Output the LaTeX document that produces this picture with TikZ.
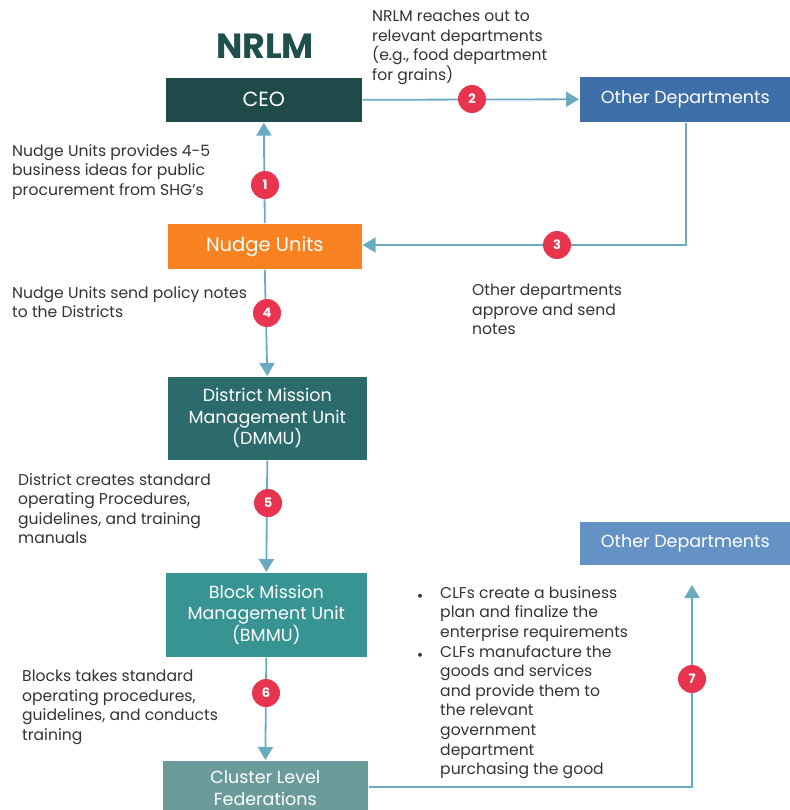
\documentclass[tikz,border=0pt]{standalone}
\usepackage{fontspec}
\setmainfont{Poppins}
\usetikzlibrary{arrows.meta}
\definecolor{ceoC}{HTML}{1F4A4A}
\definecolor{titleC}{HTML}{1F4F4D}
\definecolor{odTopC}{HTML}{3E6FA9}
\definecolor{odBotC}{HTML}{6592C5}
\definecolor{nudgeC}{HTML}{F7821F}
\definecolor{dmmuC}{HTML}{2B6B6B}
\definecolor{bmmuC}{HTML}{389393}
\definecolor{clfC}{HTML}{6B9B9B}
\definecolor{lineC}{HTML}{6AABC2}
\definecolor{badgeC}{HTML}{E8344E}
\definecolor{txtC}{HTML}{333333}
\tikzset{
  box/.style={draw=white, line width=0.6pt, text=white, align=center, inner sep=0pt, anchor=north west},
  note/.style={text=txtC, align=left, inner sep=0pt, anchor=north west, font=\fontsize{15.6}{19.6}\selectfont},
  bul/.style={text=txtC, inner sep=0pt, anchor=base, font=\fontsize{15.6}{19.6}\selectfont},
  conn/.style={draw=lineC, line width=1.8pt},
  arr/.style={conn, -{Triangle[width=15pt,length=13pt]}},
  badge/.style={circle, fill=badgeC, text=white, minimum size=28pt, inner sep=0pt, font=\fontsize{13}{13}\selectfont\bfseries},
}
\begin{document}
\begin{tikzpicture}[x=1pt,y=-1pt]
\useasboundingbox (0,0) rectangle (789,810);
% title
\node[text=titleC, font=\fontsize{35}{35}\selectfont\bfseries] (title) at (265,46) {NRLM};
% boxes
\node[box, fill=ceoC, minimum width=197pt, minimum height=45pt, font=\fontsize{20.5}{22}\selectfont] (ceo) at (165,77) {CEO};
\node[box, fill=odTopC, minimum width=212pt, minimum height=46pt, font=\fontsize{17.5}{20}\selectfont] (odtop) at (579,76) {Other Departments};
\node[box, fill=nudgeC, minimum width=195pt, minimum height=46pt, font=\fontsize{19.5}{20}\selectfont] (nudge) at (167,223) {Nudge Units};
\node[box, fill=dmmuC, minimum width=200pt, minimum height=84pt, font=\fontsize{17.5}{21.5}\selectfont] (dmmu) at (167,376) {District Mission\\Management Unit\\(DMMU)};
\node[box, fill=bmmuC, minimum width=202pt, minimum height=85pt, font=\fontsize{17.5}{21.5}\selectfont] (bmmu) at (165,572) {Block Mission\\Management Unit\\(BMMU)};
\node[box, fill=clfC, minimum width=206pt, minimum height=56pt, font=\fontsize{17.5}{21.5}\selectfont] (clf) at (162,760) {Cluster Level\\Federations};
\node[box, fill=odBotC, minimum width=212pt, minimum height=44pt, font=\fontsize{17.5}{20}\selectfont] (odbot) at (579,521) {Other Departments};
% coordinates
\coordinate (c3) at (686,245);
\coordinate (c7a) at (692,787);
\coordinate (c7b) at (692,585);
% connectors
\draw[arr] (ceo.east) -- (odtop.west);
\draw[arr] (nudge.north) -- (ceo.south);
\draw[arr] (odtop.south -| c3) -- (c3) -- (c3 -| nudge.east);
\draw[arr] (nudge.south) -- (dmmu.north);
\draw[arr] (dmmu.south) -- (bmmu.north);
\draw[arr] (bmmu.south) -- (clf.north);
\draw[arr] (clf.east |- c7a) -- (c7a) -- (c7b);
% badges
\node[badge] (b1) at (265,185) {1};
\node[badge] (b2) at (472,99) {2};
\node[badge] (b3) at (557,245) {3};
\node[badge] (b4) at (267,313) {4};
\node[badge] (b5) at (268,503) {5};
\node[badge] (b6) at (266,693) {6};
\node[badge] (b7) at (692,679) {7};
% notes
\node[note] (n2) at (372,10) {NRLM reaches out to\\relevant departments\\(e.g., food department\\for grains)};
\node[note] (n1) at (12,144) {Nudge Units provides 4-5\\business ideas for public\\procurement from SHG's};
\node[note] (n3) at (472,284) {Other departments\\approve and send\\notes};
\node[note] (n4) at (12,286) {Nudge Units send policy notes\\to the Districts};
\node[note] (n5) at (18,473) {District creates standard\\operating Procedures,\\guidelines, and training\\manuals};
\node[note] (n6) at (22,670) {Blocks takes standard\\operating procedures,\\guidelines, and conducts\\training};
\node[note] (l1) at (440,586) {CLFs create a business\\plan and finalize  the\\enterprise requirements};
\node[bul] (bu1) at (420,601) {•};
\node[note] (l2) at (440,645) {CLFs manufacture the\\goods and services\\and provide them to\\the relevant\\government\\department\\purchasing the good};
\node[bul] (bu2) at (420,660) {•};
\end{tikzpicture}
\end{document}
